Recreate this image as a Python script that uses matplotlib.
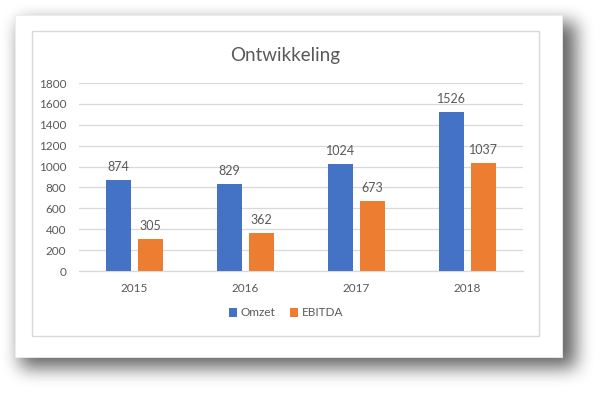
import numpy as np
import matplotlib.pyplot as plt
from matplotlib.patches import Rectangle

# chart data
years = ['2015', '2016', '2017', '2018']
omzet = [874, 829, 1024, 1526]
ebitda = [305, 362, 673, 1037]
y_ticks = [0, 200, 400, 600, 800, 1000, 1200, 1400, 1600, 1800]

BLUE = '#4472C4'
ORANGE = '#ED7D31'
TEXT = '#595959'
GRID = '#D9D9D9'

W, H = 600, 396
plt.rcParams['font.family'] = ['Lato', 'DejaVu Sans']


def box_blur(img, r):
    """simple separable box blur, repeated for a soft shadow"""
    for _ in range(3):
        for axis in (0, 1):
            pad = np.pad(img, [(r, r) if a == axis else (0, 0) for a in (0, 1)], mode='edge')
            c = np.cumsum(pad, axis=axis)
            c = np.insert(c, 0, 0, axis=axis)
            n = img.shape[axis]
            if axis == 0:
                img = (c[2 * r + 1:2 * r + 1 + n, :] - c[:n, :]) / (2 * r + 1)
            else:
                img = (c[:, 2 * r + 1:2 * r + 1 + n] - c[:, :n]) / (2 * r + 1)
    return img


fig = plt.figure(figsize=(W / 100, H / 100), dpi=100)

# background with drop shadow of the card
bg = fig.add_axes([0, 0, 1, 1])
mask = np.zeros((H, W))
mask[22:368, 20:576] = 1.0
shadow = box_blur(mask, 8) * 0.6
bg.imshow(1 - shadow, cmap='gray', vmin=0, vmax=1, extent=[0, W, H, 0],
          interpolation='bilinear')
bg.add_patch(Rectangle((15, 15), 547, 342, facecolor='white',
                       edgecolor='#EDEDED', linewidth=0.6))
bg.add_patch(Rectangle((32, 31), 507, 305, facecolor='white',
                       edgecolor=GRID, linewidth=1.0))
bg.set_xlim(0, W)
bg.set_ylim(H, 0)
bg.axis('off')

# chart area
left, right, top, bottom = 79, 523, 83, 271
ax = fig.add_axes([left / W, 1 - bottom / H, (right - left) / W, (bottom - top) / H])
ax.set_facecolor('none')

x = np.arange(len(years))
bw = 0.225
off = 0.144
b1 = ax.bar(x - off, omzet, bw, color=BLUE, label='Omzet', zorder=3)
b2 = ax.bar(x + off, ebitda, bw, color=ORANGE, label='EBITDA', zorder=3)
ax.bar_label(b1, padding=5, color=TEXT, fontsize=9)
ax.bar_label(b2, padding=5, color=TEXT, fontsize=9)

ax.set_xlim(-0.5, len(years) - 0.5)
ax.set_ylim(0, 1800)
ax.set_yticks(y_ticks)
ax.set_xticks(x)
ax.set_xticklabels(years)
ax.grid(axis='y', color=GRID, linewidth=0.9, zorder=0)
ax.tick_params(axis='y', length=0, pad=9, labelsize=8.5, labelcolor=TEXT)
ax.tick_params(axis='x', length=0, pad=9, labelsize=8.5, labelcolor=TEXT)
for s in ['top', 'right', 'left']:
    ax.spines[s].set_visible(False)
ax.spines['bottom'].set_color(GRID)
ax.spines['bottom'].set_linewidth(0.9)

fig.text(285 / W, 1 - 55 / H, 'Ontwikkeling', ha='center', va='center',
         fontsize=13.5, color=TEXT)

fig.legend(handles=[b1, b2], loc='center', bbox_to_anchor=(286 / W, 1 - 313 / H),
           ncol=2, frameon=False, fontsize=8.5, labelcolor=TEXT,
           handlelength=0.7, handleheight=0.7, handletextpad=0.3, columnspacing=1.2)

fig.savefig('out.png', dpi=100)
